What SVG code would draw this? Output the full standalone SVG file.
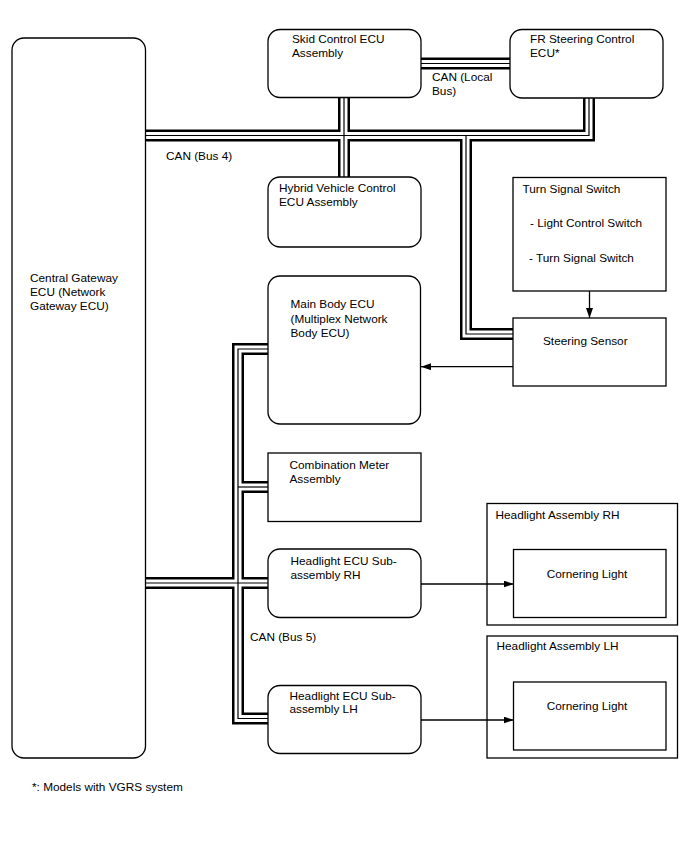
<svg xmlns="http://www.w3.org/2000/svg" xmlns:xlink="http://www.w3.org/1999/xlink" width="688" height="852" viewBox="0 0 688 852">
<style>
  .box{fill:#fff;stroke:#000;stroke-width:1.3}
  .frame{fill:none;stroke:#000;stroke-width:1.3}
  text{font-family:"Liberation Sans",Arial,sans-serif;font-size:11.8px;fill:#000}
  .mid{text-anchor:middle}
  .bo{fill:none;stroke:#000;stroke-width:12;stroke-linejoin:miter;stroke-linecap:butt}
  .bw{fill:none;stroke:#fff;stroke-width:7;stroke-linejoin:miter;stroke-linecap:butt}
  .bc{fill:none;stroke:#000;stroke-width:1.2;stroke-linejoin:miter;stroke-linecap:butt}
  .arr{fill:none;stroke:#000;stroke-width:1.3}
</style>
<defs>
  <marker id="ah" markerUnits="userSpaceOnUse" markerWidth="10" markerHeight="7" refX="10" refY="3.5" orient="auto">
    <path d="M0,0 L10,3.5 L0,7 z" fill="#000"/>
  </marker>
  <g id="buses">
    <path d="M145,135.5 H589 V98"/>
    <path d="M344,97.5 V177"/>
    <path d="M466,135.5 V334 H513"/>
    <path d="M421,63.5 H510"/>
    <path d="M268,349 H238 V718.5 H268"/>
    <path d="M238,487 H268"/>
    <path d="M145,583 H268"/>
  </g>
</defs>
<g id="connectors">
  <use xlink:href="#buses" class="bo"/>
  <use xlink:href="#buses" class="bw"/>
  <use xlink:href="#buses" class="bc"/>
  <path class="arr" d="M589.5,291 V318" marker-end="url(#ah)"/>
  <path class="arr" d="M513,366.7 H421" marker-end="url(#ah)"/>
  <path class="arr" d="M421,584 H513.5" marker-end="url(#ah)"/>
  <path class="arr" d="M421,720 H513.5" marker-end="url(#ah)"/>
  <text x="166" y="160">CAN (Bus 4)</text>
  <text x="432" y="81">CAN (Local</text>
  <text x="432" y="95">Bus)</text>
  <text x="250" y="641">CAN (Bus 5)</text>
</g>
<g id="gateway">
  <rect class="box" x="12" y="38" width="133.5" height="720" rx="12"/>
  <text x="30" y="282">Central Gateway</text>
  <text x="30" y="296">ECU (Network</text>
  <text x="30" y="310">Gateway ECU)</text>
</g>
<g id="skid">
  <rect class="box" x="268" y="29.5" width="153" height="68" rx="12"/>
  <text x="292" y="43">Skid Control ECU</text>
  <text x="292" y="57">Assembly</text>
</g>
<g id="fr-steering">
  <rect class="box" x="510" y="29.5" width="153" height="68.5" rx="12"/>
  <text x="530" y="43">FR Steering Control</text>
  <text x="530" y="57">ECU*</text>
</g>
<g id="hybrid">
  <rect class="box" x="268" y="177" width="153" height="70" rx="12"/>
  <text x="279" y="192">Hybrid Vehicle Control</text>
  <text x="279" y="206">ECU Assembly</text>
</g>
<g id="turn-signal">
  <rect class="box" x="513" y="177.5" width="153" height="113.5"/>
  <text x="522.5" y="193">Turn Signal Switch</text>
  <text x="530" y="227">- Light Control Switch</text>
  <text x="529" y="262">- Turn Signal Switch</text>
</g>
<g id="steering-sensor">
  <rect class="box" x="513" y="318" width="153" height="68"/>
  <text x="543" y="345">Steering Sensor</text>
</g>
<g id="main-body">
  <rect class="box" x="268" y="276" width="152.5" height="148" rx="12"/>
  <text x="290.5" y="308">Main Body ECU</text>
  <text x="290.5" y="322.5">(Multiplex Network</text>
  <text x="290.5" y="336.5">Body ECU)</text>
</g>
<g id="combination-meter">
  <rect class="box" x="268" y="453" width="153" height="68.5"/>
  <text x="289.5" y="469">Combination Meter</text>
  <text x="289.5" y="483">Assembly</text>
</g>
<g id="headlight-ecu-rh">
  <rect class="box" x="268" y="549" width="153" height="68.5" rx="12"/>
  <text x="290.5" y="565">Headlight ECU Sub-</text>
  <text x="290.5" y="578.5">assembly RH</text>
</g>
<g id="headlight-ecu-lh">
  <rect class="box" x="268" y="685.5" width="153" height="68" rx="12"/>
  <text x="289.5" y="699.5">Headlight ECU Sub-</text>
  <text x="289.5" y="713">assembly LH</text>
</g>
<g id="headlight-assy-rh">
  <rect class="frame" x="487" y="503.5" width="190.5" height="121.5"/>
  <text x="495.5" y="518.5">Headlight Assembly RH</text>
</g>
<g id="cornering-light-rh">
  <rect class="box" x="513.5" y="549.5" width="152.5" height="68"/>
  <text class="mid" x="587" y="577.5">Cornering Light</text>
</g>
<g id="headlight-assy-lh">
  <rect class="frame" x="487" y="636" width="190.5" height="122"/>
  <text x="496.5" y="649.5">Headlight Assembly LH</text>
</g>
<g id="cornering-light-lh">
  <rect class="box" x="513.5" y="682" width="152.5" height="68"/>
  <text class="mid" x="587" y="710">Cornering Light</text>
</g>
<g id="footnote">
  <text x="32" y="791">*: Models with VGRS system</text>
</g>
</svg>
